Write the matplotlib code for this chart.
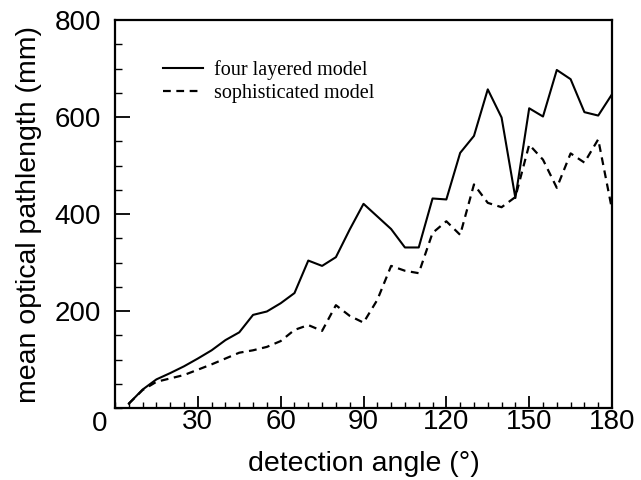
import numpy as np
import matplotlib
matplotlib.use('Agg')
import matplotlib.pyplot as plt
from matplotlib.ticker import MultipleLocator

plt.rcParams['font.family'] = 'Liberation Sans'

angle = np.arange(5, 181, 5)
four_layer = [9, 38, 59, 72, 86, 102, 119, 140, 156, 192, 199, 216, 237, 304, 293, 311, 368, 421,
              395, 369, 331, 331, 432, 430, 526, 561, 657, 599, 433, 618, 601, 697, 678, 610, 603, 647]
sophisticated = [9, 37, 54, 61, 68, 79, 90, 102, 114, 119, 126, 138, 161, 171, 159, 212, 190, 176,
                 223, 293, 283, 278, 361, 385, 357, 461, 423, 414, 435, 543, 512, 454, 525, 506, 554, 409]

xticks = [30, 60, 90, 120, 150, 180]
yticks = [200, 400, 600, 800]

fig = plt.figure(figsize=(6.41, 4.8), dpi=100)
ax = fig.add_axes([0.1794, 0.15, 0.7754, 0.8083])

ax.plot(angle, four_layer, color='black', lw=1.5, label='four layered model')
ax.plot(angle, sophisticated, color='black', lw=1.6, dashes=(3.5, 2.5), label='sophisticated model')

ax.set_xlim(0, 180)
ax.set_ylim(0, 800)
ax.set_xticks(xticks)
ax.set_yticks(yticks)
ax.xaxis.set_minor_locator(MultipleLocator(5))
ax.yaxis.set_minor_locator(MultipleLocator(50))
ax.tick_params(which='both', direction='in', labelsize=20)
ax.tick_params(axis='x', which='major', length=9, width=1.3, pad=1)
ax.tick_params(axis='y', which='major', length=11, width=1.3, pad=10)
ax.tick_params(axis='x', which='minor', length=4, width=1)
ax.tick_params(axis='y', which='minor', length=5, width=1)
for s in ax.spines.values():
    s.set_linewidth(1.6)

# shared corner zero
ax.annotate('0', xy=(0, 0), xycoords='axes fraction', xytext=(-5.8, -2.5), textcoords='offset points',
            ha='right', va='top', fontsize=20)

ax.set_xlabel('detection angle (°)', fontsize=20.5, labelpad=11)
ax.set_ylabel('mean optical pathlength (mm)', fontsize=20.5, labelpad=9)

leg = ax.legend(loc='upper left', bbox_to_anchor=(0.097, 0.896), frameon=False, handlelength=2.0,
                prop={'family': 'Liberation Serif', 'size': 14.5}, labelspacing=0.2, handletextpad=0.5,
                borderpad=0, borderaxespad=0)

fig.savefig('out.png', dpi=100)
